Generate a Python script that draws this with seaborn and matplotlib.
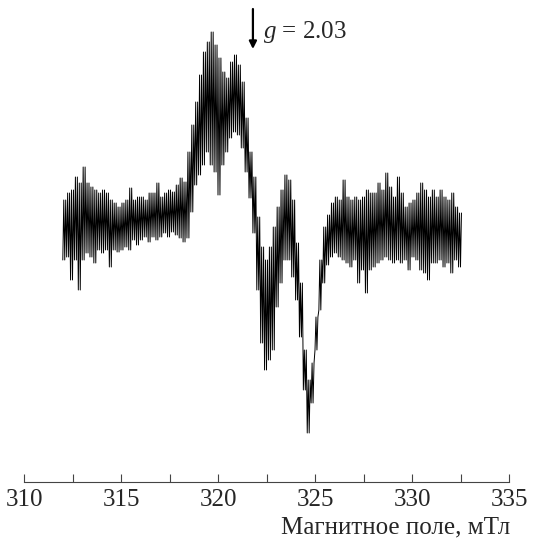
import numpy as np
import pandas as pd
import matplotlib
matplotlib.use("Agg")
import matplotlib.pyplot as plt
import seaborn as sns

# EPR spectrum: field grid (mT) and the upper / lower
# edge of the noisy trace at each grid point (arbitrary signal units)
field = np.linspace(312.0, 332.4, 103)

upper = [30, 37, 40, 53, 47, 63, 47, 43, 40, 37,
         40, 37, 30, 27, 23, 27, 30, 42, 30, 33,
         33, 30, 37, 37, 47, 33, 37, 40, 38, 45,
         52, 48, 78, 105, 128, 155, 178, 188, 198, 185,
         172, 158, 152, 168, 175, 165, 148, 112, 78, 53,
         13, -17, -30, -17, 3, 23, 40, 55, 50, 30,
         -13, -53, -120, -150, -133, -87, -30, 3, 15, 27,
         33, 30, 50, 33, 30, 33, 30, 33, 40, 37,
         37, 47, 40, 57, 43, 33, 53, 37, 23, 27,
         30, 37, 47, 40, 33, 40, 33, 40, 33, 30,
         37, 23, 17]

lower = [-30, -27, -50, -30, -60, -30, -23, -27, -33, -20,
         -23, -20, -37, -20, -22, -20, -17, -20, -10, -15,
         -10, -7, -12, -7, -10, -7, -3, -7, -2, -5,
         -8, -12, -8, 18, 45, 55, 65, 78, 65, 58,
         35, 65, 78, 92, 98, 95, 82, 58, 32, -3,
         -60, -113, -140, -130, -120, -77, -53, -30, -30, -47,
         -70, -107, -160, -203, -173, -120, -80, -53, -35, -27,
         -23, -27, -30, -33, -37, -30, -53, -40, -63, -40,
         -37, -33, -30, -27, -30, -33, -30, -33, -30, -40,
         -27, -30, -40, -43, -50, -33, -33, -30, -37, -33,
         -43, -30, -37]

g_field = 321.8
g_label = "$\\it{g}$ = 2.03"

# zig-zag between lower and upper edges, several strokes per grid step
xs, ys = [], []
for f, lo, hi in zip(field, lower, upper):
    for k, v in enumerate([lo, hi, lo, hi]):
        xs.append(f + 0.05 * k)
        ys.append(v)
trace = pd.DataFrame({"field": xs, "signal": ys})

sns.set_theme(style="white")
plt.rcParams["font.family"] = ["Liberation Serif", "DejaVu Serif"]
plt.rcParams["mathtext.fontset"] = "custom"
plt.rcParams["mathtext.it"] = "Liberation Serif:italic"
plt.rcParams["mathtext.rm"] = "Liberation Serif"

fig = plt.figure(figsize=(5.34, 5.40), dpi=100)
ax = fig.add_axes([24 / 534, 58 / 540, 485 / 534, 482 / 540])

sns.lineplot(data=trace, x="field", y="signal", ax=ax, sort=False,
             estimator=None, color="black", linewidth=0.7)

ax.set_xlim(310, 335)
ax.set_ylim(-252, 230)
ax.set_xticks(np.arange(310, 336, 5))
ax.set_xticks(np.arange(312.5, 335, 5), minor=True)
ax.tick_params(axis="x", which="both", direction="in", length=6,
               width=0.8, color="#444444", labelsize=18, pad=5,
               bottom=True)
ax.set_yticks([])
ax.set_xlabel("")
ax.set_ylabel("")
sns.despine(ax=ax, left=True)
ax.spines["bottom"].set_color("#444444")
ax.spines["bottom"].set_linewidth(0.8)

# g-factor marker
ax.annotate("", xy=(g_field, 181), xytext=(g_field, 221),
            arrowprops=dict(arrowstyle="-|>", color="black", lw=1.6,
                            mutation_scale=11, shrinkA=0, shrinkB=0),
            annotation_clip=False)
ax.text(g_field + 0.5, 192, g_label, fontsize=18, ha="left", va="baseline")

fig.text(510 / 534, 1 - 527 / 540, "Магнитное поле, мТл", fontsize=18,
         ha="right", va="center")

fig.savefig("out.png", dpi=100)
